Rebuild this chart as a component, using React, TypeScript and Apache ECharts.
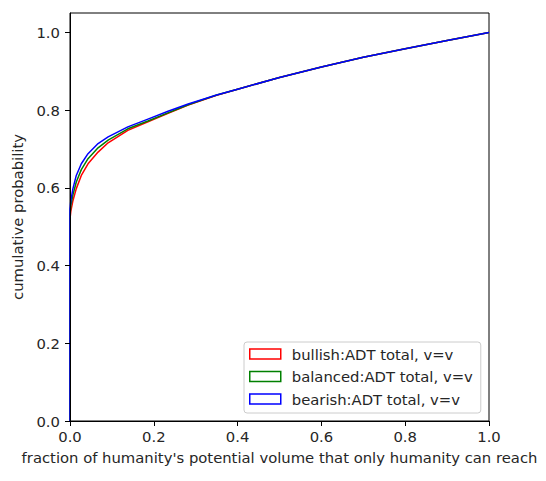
import React, { useEffect, useRef } from "react";
import * as echarts from "echarts";

const xs = [0, 0.002, 0.007, 0.015, 0.027, 0.043, 0.067, 0.091, 0.138, 0.186, 0.234, 0.282, 0.35, 0.4, 0.5, 0.6, 0.7, 0.8, 0.9, 1.0];
const bullish = [0.52, 0.54, 0.567, 0.598, 0.632, 0.662, 0.692, 0.716, 0.748, 0.77, 0.792, 0.813, 0.838, 0.854, 0.884, 0.911, 0.936, 0.958, 0.979, 1.0];
const balanced = [0.53, 0.555, 0.582, 0.615, 0.647, 0.675, 0.703, 0.723, 0.752, 0.772, 0.793, 0.814, 0.839, 0.854, 0.884, 0.911, 0.936, 0.958, 0.979, 1.0];
const bearish = [0.545, 0.567, 0.598, 0.632, 0.662, 0.688, 0.714, 0.731, 0.757, 0.777, 0.797, 0.816, 0.839, 0.854, 0.884, 0.911, 0.936, 0.958, 0.979, 1.0];
const seriesNames = ["bullish:ADT total, v=v", "balanced:ADT total, v=v", "bearish:ADT total, v=v"];
const seriesColors = ["#ff0000", "#008000", "#0000ff"];
const xTicks = [0, 0.2, 0.4, 0.6, 0.8, 1.0];
const yTicks = [0, 0.2, 0.4, 0.6, 0.8, 1.0];

const FONT = "DejaVu Sans";
const FS = 14.8;

export default function App() {
  const ref = useRef<HTMLDivElement>(null);
  useEffect(() => {
    document.body.style.margin = "0";
    const chart = echarts.init(ref.current!, undefined, { renderer: "svg" });
    const values = [bullish, balanced, bearish];
    const series = values.map((ys, i) => ({
      name: seriesNames[i],
      type: "line",
      data: [[0, 0], ...xs.map((x, j) => [x, ys[j]])],
      showSymbol: false,
      symbol: "none",
      smooth: false,
      lineStyle: { color: seriesColors[i], width: 1.5 },
      itemStyle: { color: seriesColors[i] },
      z: 2 + i,
    }));
    const axisCommon = {
      type: "value",
      axisLine: { show: true, onZero: false, lineStyle: { color: "#000", width: 1 } },
      axisTick: { show: true, inside: false, length: 5, lineStyle: { color: "#000", width: 1 } },
      splitLine: { show: false },
      axisLabel: {
        color: "#262626",
        fontFamily: FONT,
        fontSize: FS,
        formatter: (v: number) => v.toFixed(1),
      },
      nameTextStyle: { color: "#262626", fontFamily: FONT, fontSize: FS },
    };
    chart.setOption({
      animation: false,
      backgroundColor: "#fff",
      textStyle: { fontFamily: FONT },
      grid: {
        left: 70,
        top: 13,
        width: 419,
        height: 408,
        show: true,
        borderColor: "#000",
        borderWidth: 1,
        backgroundColor: "transparent",
      },
      xAxis: {
        ...axisCommon,
        min: 0,
        max: 1,
        interval: 0.2,
        z: 10,
        name: "fraction of humanity's potential volume that only humanity can reach",
        nameLocation: "middle",
        nameGap: 29,
        axisTick: { ...axisCommon.axisTick, customValues: xTicks },
        axisLabel: { ...axisCommon.axisLabel, margin: 8, customValues: xTicks },
      },
      yAxis: {
        ...axisCommon,
        min: 0,
        max: 1.05,
        interval: 0.2,
        z: 10,
        name: "cumulative probability",
        nameLocation: "middle",
        nameGap: 45,
        axisTick: { ...axisCommon.axisTick, customValues: yTicks },
        axisLabel: { ...axisCommon.axisLabel, margin: 10, customValues: yTicks },
      },
      legend: {
        show: true,
        orient: "vertical",
        left: 244,
        top: 342,
        itemWidth: 31,
        itemHeight: 10,
        itemGap: 5.5,
        padding: [3.5, 8, 5.5, 5],
        backgroundColor: "rgba(255,255,255,0.8)",
        borderColor: "#cccccc",
        borderWidth: 1,
        borderRadius: 3,
        textStyle: { color: "#262626", fontFamily: FONT, fontSize: FS, lineHeight: 17, padding: [0, 0, 0, 6] },
        data: seriesNames.map((n, i) => ({
          name: n,
          icon: "rect",
          itemStyle: { color: "transparent", borderColor: seriesColors[i], borderWidth: 1.5 },
        })),
      },
      series,
    });
    return () => chart.dispose();
  }, []);
  return <div ref={ref} style={{ width: 546, height: 481 }} />;
}
